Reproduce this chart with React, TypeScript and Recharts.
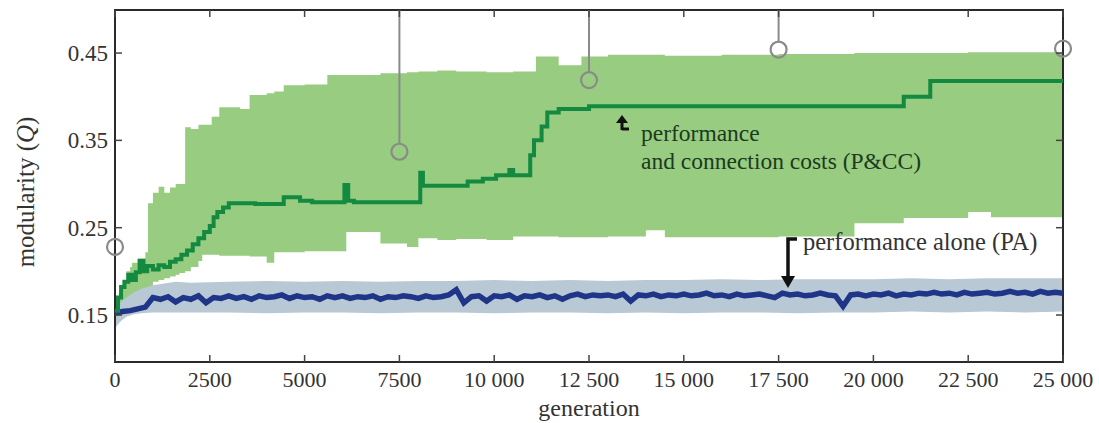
import {
  ComposedChart,
  Area,
  Line,
  Scatter,
  XAxis,
  YAxis,
  ReferenceArea,
} from "recharts";

// plot frame in page pixels (for ticks drawn inward and the marker stems)
const W = 1099;
const H = 423;
const PLOT_LEFT = 115;
const PLOT_RIGHT = 1063;
const PLOT_TOP = 10;
const PLOT_BOTTOM = 362;
const Y_MIN = 0.0962;
const Y_MAX = 0.4993;
const FONT = "'Liberation Serif', 'DejaVu Serif', serif";

const X_TICKS = [0, 2500, 5000, 7500, 10000, 12500, 15000, 17500, 20000, 22500, 25000];
const X_TICK_LABELS = ["0", "2500", "5000", "7500", "10 000", "12 500", "15 000", "17 500", "20 000", "22 500", "25 000"];
const Y_TICKS = [0.15, 0.25, 0.35, 0.45];
const Y_TICK_LABELS = ["0.15", "0.25", "0.35", "0.45"];

// P&CC: spread band (step)
const PCC_BAND_GEN = [
  0, 100, 200, 300, 400, 450, 600, 800, 870, 1000, 1150, 1300, 1450, 1600, 1700, 1850,
  2000, 2200, 2300, 2550, 2750, 3300, 3550, 4000, 4200, 4450, 5000, 5600, 6100, 7000,
  7700, 8000, 8500, 9000, 9800, 10500, 11100, 11700, 12300, 13000, 14000, 14500, 16000,
  17500, 19500, 20800, 22500, 23100, 25000,
];
const PCC_BAND_LOW = [
  0.148, 0.15, 0.155, 0.158, 0.165, 0.166, 0.172, 0.18, 0.182, 0.188, 0.19, 0.192, 0.194, 0.196, 0.198, 0.2,
  0.205, 0.212, 0.219, 0.219, 0.218, 0.218, 0.217, 0.21, 0.222, 0.222, 0.223, 0.223, 0.245, 0.232,
  0.228, 0.238, 0.236, 0.237, 0.236, 0.24, 0.24, 0.239, 0.239, 0.24, 0.247, 0.239, 0.239,
  0.24, 0.255, 0.261, 0.268, 0.262, 0.262,
];
const PCC_BAND_HIGH = [
  0.165, 0.175, 0.19, 0.2, 0.205, 0.21, 0.215, 0.222, 0.278, 0.29, 0.297, 0.29, 0.296, 0.3, 0.3, 0.365,
  0.363, 0.368, 0.368, 0.377, 0.388, 0.386, 0.402, 0.404, 0.406, 0.413, 0.414, 0.425, 0.425, 0.427,
  0.428, 0.429, 0.43, 0.429, 0.428, 0.429, 0.446, 0.436, 0.446, 0.448, 0.448, 0.447, 0.448,
  0.449, 0.45, 0.45, 0.451, 0.451, 0.452,
];

// P&CC: median line (step)
const PCC_LINE_GEN = [
  0, 80, 160, 250, 350, 450, 550, 650, 750, 850, 1000, 1150, 1300, 1450, 1600, 1750, 1900,
  2050, 2200, 2350, 2500, 2600, 2700, 2850, 3000, 3700, 4450, 4880, 5200, 6050, 6150, 6300,
  8050, 8120, 9300, 9700, 10050, 10400, 10500, 10950, 11050, 11250, 11400, 11700, 12500,
  20800, 21500, 25000,
];
const PCC_LINE_Q = [
  0.155, 0.17, 0.182, 0.188, 0.196, 0.19, 0.199, 0.212, 0.2, 0.206, 0.202, 0.207, 0.205, 0.211, 0.214, 0.219, 0.224,
  0.231, 0.238, 0.245, 0.252, 0.262, 0.268, 0.273, 0.278, 0.277, 0.285, 0.281, 0.279, 0.299, 0.281, 0.279,
  0.313, 0.298, 0.303, 0.306, 0.31, 0.316, 0.31, 0.333, 0.35, 0.366, 0.382, 0.386, 0.389,
  0.4, 0.418, 0.418,
];

// PA: spread band
const PA_BAND_GEN = [
  0, 150, 300, 500, 700, 1000, 1300, 1600, 2000, 3000, 4000, 5000, 6000, 7000, 8000, 9000,
  10000, 11000, 12000, 13000, 14000, 15000, 16000, 17000, 18000, 19000, 20000, 21000, 22000,
  23000, 24000, 25000,
];
const PA_BAND_LOW = [
  0.135, 0.143, 0.148, 0.151, 0.152, 0.153, 0.153, 0.153, 0.153, 0.153, 0.152, 0.153, 0.153, 0.152, 0.153, 0.153,
  0.152, 0.153, 0.153, 0.152, 0.153, 0.152, 0.153, 0.153, 0.152, 0.153, 0.153, 0.154, 0.153,
  0.154, 0.153, 0.154,
];
const PA_BAND_HIGH = [
  0.16, 0.165, 0.17, 0.176, 0.18, 0.184, 0.186, 0.188, 0.187, 0.188, 0.189, 0.188, 0.189, 0.188, 0.189, 0.189,
  0.19, 0.189, 0.19, 0.189, 0.19, 0.19, 0.191, 0.19, 0.191, 0.191, 0.191, 0.192, 0.191,
  0.192, 0.192, 0.192,
];

// PA: median line, one value every 200 generations
const PA_LINE_STEP = 200;
const PA_LINE_Q = [
  0.152, 0.154, 0.155, 0.157, 0.159,
  0.17, 0.168, 0.171, 0.165, 0.17,
  0.168, 0.172, 0.164, 0.17, 0.169,
  0.172, 0.169, 0.171, 0.168, 0.172,
  0.17, 0.171, 0.173, 0.169, 0.172,
  0.17, 0.171, 0.168, 0.172, 0.17,
  0.172, 0.169, 0.171, 0.17, 0.172,
  0.168, 0.171, 0.17, 0.172, 0.171,
  0.169, 0.172, 0.17, 0.171, 0.173,
  0.179, 0.164, 0.171, 0.172, 0.166,
  0.172, 0.171, 0.173, 0.168, 0.172,
  0.171, 0.173, 0.17, 0.172, 0.168,
  0.172, 0.174, 0.171, 0.173, 0.172,
  0.173, 0.171, 0.174, 0.166, 0.173,
  0.172, 0.174, 0.171, 0.173, 0.172,
  0.174, 0.172, 0.173, 0.175, 0.172,
  0.173, 0.171, 0.174, 0.172, 0.173,
  0.174, 0.172, 0.17, 0.175, 0.173,
  0.174, 0.172, 0.173, 0.175, 0.173,
  0.172, 0.16, 0.173, 0.174, 0.172,
  0.174, 0.173, 0.175, 0.172, 0.174,
  0.173, 0.175, 0.174, 0.176, 0.174,
  0.175, 0.173, 0.176, 0.174, 0.175,
  0.176, 0.174, 0.175, 0.177, 0.175,
  0.176, 0.174, 0.177, 0.175, 0.176,
  0.175,
];

// grey circle markers (stem = line down from the top of the frame)
const MARK_GEN = [0, 7500, 12500, 17500, 25000];
const MARK_Q = [0.228, 0.337, 0.419, 0.454, 0.455];
const MARK_STEM = [false, true, true, true, false];

const pccBand = PCC_BAND_GEN.map((gen, i) => ({ gen, range: [PCC_BAND_LOW[i], PCC_BAND_HIGH[i]] }));
const pccLine = PCC_LINE_GEN.map((gen, i) => ({ gen, q: PCC_LINE_Q[i] }));
const paBand = PA_BAND_GEN.map((gen, i) => ({ gen, range: [PA_BAND_LOW[i], PA_BAND_HIGH[i]] }));
const paLine = PA_LINE_Q.map((q, i) => ({ gen: i * PA_LINE_STEP, q }));
const marks = MARK_GEN.map((gen, i) => ({ gen, q: MARK_Q[i], stem: MARK_STEM[i] }));

function XTick({ x, payload }: any) {
  const i = X_TICKS.indexOf(payload.value);
  return (
    <g>
      <line x1={x} x2={x} y1={PLOT_BOTTOM} y2={PLOT_BOTTOM - 7} stroke="#444" strokeWidth={1.5} />
      <line x1={x} x2={x} y1={PLOT_TOP} y2={PLOT_TOP + 7} stroke="#444" strokeWidth={1.5} />
      <text x={x} y={PLOT_BOTTOM + 25} textAnchor="middle" fontSize={22} fill="#333" fontFamily={FONT}>
        {X_TICK_LABELS[i]}
      </text>
    </g>
  );
}

function YTick({ y, payload }: any) {
  const i = Y_TICKS.indexOf(payload.value);
  return (
    <g>
      <line x1={PLOT_LEFT} x2={PLOT_LEFT + 7} y1={y} y2={y} stroke="#444" strokeWidth={1.5} />
      <line x1={PLOT_RIGHT - 7} x2={PLOT_RIGHT} y1={y} y2={y} stroke="#444" strokeWidth={1.5} />
      <text x={PLOT_LEFT - 7} y={y + 8} textAnchor="end" fontSize={23} fill="#333" fontFamily={FONT}>
        {Y_TICK_LABELS[i]}
      </text>
    </g>
  );
}

function Marker({ cx, cy, payload }: any) {
  return (
    <g>
      {payload.stem && (
        <line x1={cx} x2={cx} y1={PLOT_TOP} y2={cy - 8} stroke="#8a8a8a" strokeWidth={2} />
      )}
      <circle cx={cx} cy={cy} r={8} fill="none" stroke="#8a8a8a" strokeWidth={2.2} />
    </g>
  );
}

export default function App() {
  return (
    <div style={{ position: "absolute", left: 0, top: 0, width: W, height: H, background: "#fff" }}>
      <ComposedChart
        width={W}
        height={H}
        margin={{ top: PLOT_TOP, right: W - PLOT_RIGHT, bottom: 0, left: 0 }}
        style={{ fontFamily: FONT }}
      >
        <XAxis
          dataKey="gen"
          type="number"
          domain={[0, 25000]}
          ticks={X_TICKS}
          interval={0}
          tick={<XTick />}
          tickLine={false}
          axisLine={false}
          height={H - PLOT_BOTTOM}
        />
        <YAxis
          type="number"
          domain={[Y_MIN, Y_MAX]}
          ticks={Y_TICKS}
          interval={0}
          tick={<YTick />}
          tickLine={false}
          axisLine={false}
          width={PLOT_LEFT}
        />
        <Area
          data={pccBand}
          dataKey="range"
          type="stepAfter"
          fill="#97cc81"
          fillOpacity={1}
          stroke="none"
          isAnimationActive={false}
        />
        <Area
          data={paBand}
          dataKey="range"
          type="linear"
          fill="#b8c8d5"
          fillOpacity={1}
          stroke="none"
          isAnimationActive={false}
        />
        <Line
          data={paLine}
          dataKey="q"
          type="linear"
          stroke="#1f3588"
          strokeWidth={5.5}
          dot={false}
          isAnimationActive={false}
        />
        <Line
          data={pccLine}
          dataKey="q"
          type="stepAfter"
          stroke="#138a3f"
          strokeWidth={4}
          dot={false}
          isAnimationActive={false}
        />
        <ReferenceArea
          x1={0}
          x2={25000}
          y1={Y_MIN}
          y2={Y_MAX}
          fill="none"
          fillOpacity={0}
          stroke="#2a2a2a"
          strokeWidth={2}
          ifOverflow="visible"
        />
        <Scatter data={marks} dataKey="q" shape={<Marker />} isAnimationActive={false} />
      </ComposedChart>

      {/* labels and annotation arrows */}
      <svg
        width={W}
        height={H}
        style={{ position: "absolute", left: 0, top: 0, pointerEvents: "none" }}
        fontFamily={FONT}
      >
        <text transform="translate(34,192) rotate(-90)" textAnchor="middle" fontSize={25} fill="#333">
          modularity (<tspan fontStyle="italic">Q</tspan>)
        </text>
        <text x={(PLOT_LEFT + PLOT_RIGHT) / 2} y={416} textAnchor="middle" fontSize={24} fill="#333">
          generation
        </text>

        <path d="M622,130 L622,121 M622,129 L629,129" stroke="#111" strokeWidth={3} fill="none" />
        <polygon points="616,123 622,115 628,123" fill="#111" />
        <text x={641} y={141} fontSize={23.5} fill="#1d3a1f">performance</text>
        <text x={641} y={169} fontSize={23.5} fill="#1d3a1f">and connection costs (P&amp;CC)</text>

        <path d="M797,239 L788,239 L788,278" stroke="#111" strokeWidth={3.5} fill="none" />
        <polygon points="781,276 795,276 788,288" fill="#111" />
        <text x={803} y={250} fontSize={24.5} fill="#333">performance alone (PA)</text>
      </svg>
    </div>
  );
}
